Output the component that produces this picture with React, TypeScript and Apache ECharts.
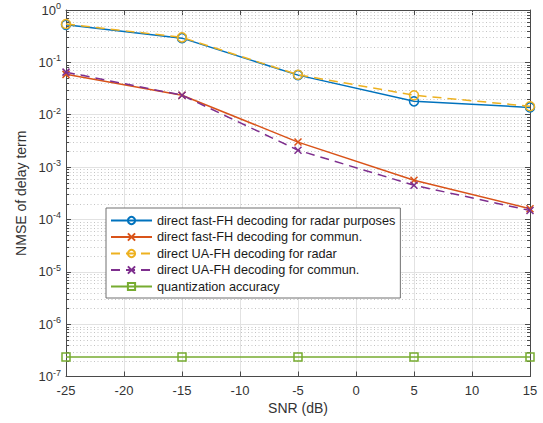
import React, { useEffect, useRef } from 'react';
import * as echarts from 'echarts';

const snr = [-25, -15, -5, 5, 15];
const fastRadar = [0.52, 0.29, 0.057, 0.018, 0.0138];
const fastComm = [0.059, 0.0236, 0.003, 0.00056, 0.00016];
const uaRadar = [0.54, 0.3, 0.058, 0.0236, 0.0145];
const uaComm = [0.065, 0.0236, 0.0021, 0.00045, 0.000148];
const quant = [2.35e-7, 2.35e-7, 2.35e-7, 2.35e-7, 2.35e-7];

const seriesNames = [
  'direct fast-FH decoding for radar purposes',
  'direct fast-FH decoding for commun.',
  'direct UA-FH decoding for radar',
  'direct UA-FH decoding for commun.',
  'quantization accuracy',
];
const colors = ['#0072BD', '#D95319', '#EDB120', '#7E2F8E', '#77AC30'];

const decades = [-7, -6, -5, -4, -3, -2, -1];
const minorMultipliers = [2, 3, 4, 5, 6, 7, 8, 9];

const FONT = 'Liberation Sans, Arial, Helvetica, sans-serif';
const AXIS_COLOR = '#4a4a4a';
const TEXT_COLOR = '#333333';
const CROSS = 'path://M0,0L10,10M10,0L0,10';

export default function App() {
  const ref = useRef<HTMLDivElement>(null);
  useEffect(() => {
    if (!ref.current) return;
    const chart = echarts.init(ref.current, undefined, { renderer: 'svg' });
    const minorVals: number[][] = [];
    decades.forEach((d) => minorMultipliers.forEach((m) => minorVals.push([snr[0], m * Math.pow(10, d)])));

    const lineSeries = (i: number, data: number[], symbol: string, dashed: boolean, size: number) => ({
      name: seriesNames[i],
      type: 'line',
      data: snr.map((x, k) => [x, data[k]]),
      symbol,
      symbolSize: size,
      showSymbol: true,
      z: 3 + i,
      lineStyle: { color: colors[i], width: 1.5, type: dashed ? [9, 6] : 'solid' },
      itemStyle: { color: 'none', borderColor: colors[i], borderWidth: 1.5 },
      emphasis: { disabled: true },
    });

    const yLabel = {
      fontSize: 13,
      fontFamily: FONT,
      color: TEXT_COLOR,
      margin: 5,
      formatter: (v: number) => '10{s|' + Math.round(Math.log10(v)) + '}',
      rich: {
        s: { fontSize: 9, fontFamily: FONT, color: TEXT_COLOR, verticalAlign: 'top', padding: [0, 0, 8, 0] },
      },
    };

    chart.setOption({
      animation: false,
      grid: { left: 66, right: 13, top: 10, bottom: 46.5, containLabel: false },
      xAxis: [
        {
          type: 'value',
          min: -25,
          max: 15,
          interval: 5,
          name: 'SNR (dB)',
          nameLocation: 'middle',
          nameGap: 23,
          nameTextStyle: { fontSize: 14, fontFamily: FONT, color: TEXT_COLOR, verticalAlign: 'top' },
          axisLine: { onZero: false, lineStyle: { color: AXIS_COLOR, width: 1 } },
          axisTick: { inside: true, length: 5, lineStyle: { color: AXIS_COLOR } },
          axisLabel: { fontSize: 13, fontFamily: FONT, color: TEXT_COLOR, margin: 7 },
          splitLine: { show: true, lineStyle: { color: '#e2e2e2', width: 1 } },
        },
        {
          type: 'value',
          position: 'top',
          min: -25,
          max: 15,
          interval: 5,
          axisLine: { onZero: false, lineStyle: { color: AXIS_COLOR, width: 1 } },
          axisTick: { inside: true, length: 5, lineStyle: { color: AXIS_COLOR } },
          axisLabel: { show: false },
          splitLine: { show: false },
        },
      ],
      yAxis: [
        {
          type: 'log',
          logBase: 10,
          min: 1e-7,
          max: 1,
          splitNumber: 7,
          name: 'NMSE of delay term',
          nameLocation: 'middle',
          nameGap: 38,
          nameTextStyle: { fontSize: 14, fontFamily: FONT, color: TEXT_COLOR },
          axisLine: { onZero: false, lineStyle: { color: AXIS_COLOR, width: 1 } },
          axisTick: { inside: true, length: 5, lineStyle: { color: AXIS_COLOR } },
          axisLabel: yLabel,
          splitLine: { show: true, lineStyle: { color: '#e2e2e2', width: 1 } },
        },
        {
          type: 'log',
          logBase: 10,
          min: 1e-7,
          max: 1,
          splitNumber: 7,
          position: 'right',
          axisLine: { onZero: false, lineStyle: { color: AXIS_COLOR, width: 1 } },
          axisTick: { inside: true, length: 5, lineStyle: { color: AXIS_COLOR } },
          axisLabel: { show: false },
          splitLine: { show: false },
        },
      ],
      legend: {
        data: seriesNames,
        orient: 'vertical',
        left: 106,
        top: 208,
        itemWidth: 41,
        itemHeight: 9,
        itemGap: 3.5,
        padding: [6, 5, 5, 4],
        backgroundColor: '#ffffff',
        borderColor: '#707070',
        borderWidth: 1,
        borderRadius: 0,
        textStyle: { fontSize: 12.7, fontFamily: FONT, color: '#1a1a1a' },
        selectedMode: false,
      },
      series: [
        {
          type: 'custom',
          name: 'minor',
          silent: true,
          z: 1,
          data: minorVals,
          renderItem: (params: any, api: any) => {
            const cs = params.coordSys;
            const y = Math.round(api.coord([snr[0], api.value(1)])[1]) + 0.5;
            return {
              type: 'group',
              children: [
                {
                  type: 'line',
                  shape: { x1: cs.x, y1: y, x2: cs.x + cs.width, y2: y },
                  style: { stroke: '#c4c4c4', lineWidth: 1, lineDash: [1, 2.5] },
                },
                {
                  type: 'line',
                  shape: { x1: cs.x, y1: y, x2: cs.x + 3, y2: y },
                  style: { stroke: AXIS_COLOR, lineWidth: 1 },
                },
                {
                  type: 'line',
                  shape: { x1: cs.x + cs.width - 3, y1: y, x2: cs.x + cs.width, y2: y },
                  style: { stroke: AXIS_COLOR, lineWidth: 1 },
                },
              ],
            };
          },
        },
        lineSeries(0, fastRadar, 'circle', false, 9),
        lineSeries(1, fastComm, CROSS, false, 7),
        lineSeries(2, uaRadar, 'circle', true, 9),
        lineSeries(3, uaComm, CROSS, true, 7),
        lineSeries(4, quant, 'rect', false, 8),
      ],
    });
    return () => chart.dispose();
  }, []);
  return <div ref={ref} style={{ width: 543, height: 423, position: 'absolute', left: 0, top: 0 }} />;
}
